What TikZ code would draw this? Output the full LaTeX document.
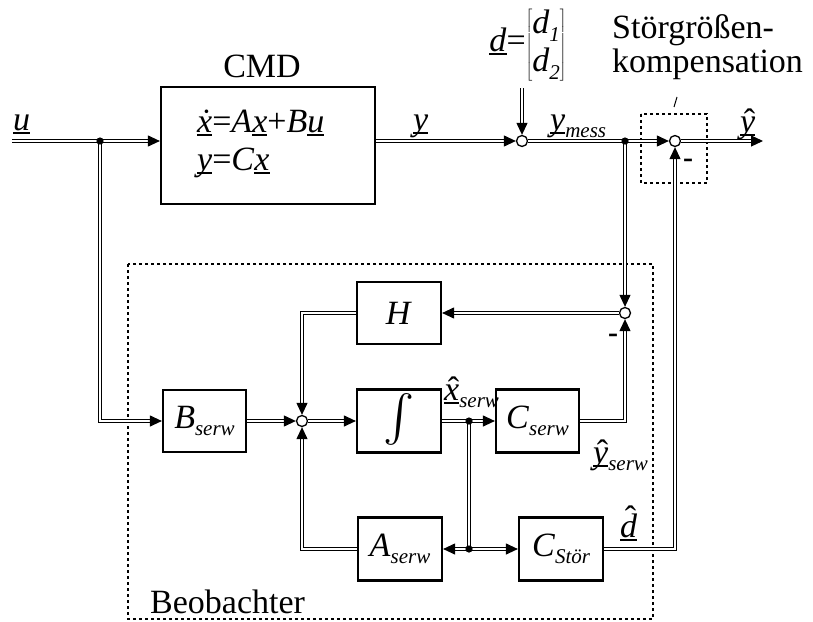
\documentclass[tikz,border=0pt]{standalone}
\usepackage{fontspec}
\setmainfont{Liberation Serif}
\usepackage{graphicx}
\usetikzlibrary{arrows.meta}
\newcommand{\ul}[1]{\setbox0\hbox{#1}\rlap{\rule[-0.11em]{\wd0}{0.05em}}\box0}
\newcommand{\sbs}[1]{\raisebox{-0.22em}{\fontsize{21}{21}\selectfont\itshape #1}}
% accent (#2) raised by #3 over an underlined italic letter #1
\newcommand{\accul}[3]{\setbox2\hbox{\ul{\textit{#1}}}\makebox[\wd2]{\hspace{0.1em}\raisebox{#3}[0pt][0pt]{#2}}\llap{\box2}}
\newcommand{\hatul}[2][0em]{\accul{#2}{\char"02C6}{#1}}
\newcommand{\dotul}[1]{\accul{#1}{\char"02D9}{0em}}
\tikzset{
  blk/.style={draw, line width=2.2pt, minimum width=84pt, minimum height=63pt, inner sep=0pt},
  dl/.style={draw=black, double=white, line width=1.1pt, double distance=1.8pt},
  arr/.style={-{Triangle[length=12pt,width=11pt]}},
  sumc/.style={circle, draw, fill=white, line width=1.3pt, minimum size=11pt, inner sep=0pt},
  grp/.style={draw, line width=1.3pt, dash pattern=on 3pt off 3pt},
  lbl/.style={inner sep=0pt, anchor=base west},
  minus/.style={inner sep=0pt, font=\fontsize{30}{30}\selectfont\bfseries},
}
\begin{document}
\begin{tikzpicture}[x=1pt,y=-1pt,font=\fontsize{34}{40}\selectfont]
\useasboundingbox (0,0) rectangle (813,621);
% group frames
\draw[grp] (128,264) rectangle (653,619);
\draw[grp] (641,114) rectangle (707,183);
% blocks
\node[blk, minimum width=214pt, minimum height=117pt] (cmd) at (268,145.5) {};
\node[lbl] (cmdl1) at (197,132) {\dotul{x}=\textit{A}\ul{\textit{x}}+\textit{B}\ul{\textit{u}}};
\node[lbl] (cmdl2) at (197,170) {\ul{\textit{y}}=\textit{C}\ul{\textit{x}}};
\node[inner sep=0pt, anchor=base] (cmdt) at (262,77) {CMD};
\node[blk, minimum width=83pt, minimum height=62pt] (Bs) at (204.5,421) {\textit{B}\sbs{serw}};
\node[blk, minimum height=62pt] (H) at (399,313) {\textit{H}};
\node[blk] (int) at (399,421) {\resizebox{!}{55pt}{$\int$}};
\node[blk, minimum width=83pt] (Cs) at (537.5,421) {\textit{C}\sbs{serw}};
\node[blk] (As) at (400,549) {\textit{A}\sbs{serw}};
\node[blk] (Cst) at (561,549) {\textit{C}\sbs{Stör}};
% summing points
\node[sumc] (s1) at (522,141) {};
\node[sumc] (s2) at (675,141) {};
\node[sumc] (s3) at (302,421) {};
\node[sumc] (s4) at (625,313) {};
% junctions and free ends
\coordinate (in) at (12,141);
\coordinate (out) at (763,141);
\coordinate (din) at (522,88);
\coordinate (j1) at (100,141);
\coordinate (j2) at (625,141);
\coordinate (j3) at (469,421);
\coordinate (j4) at (469,549);
\coordinate (lead1) at (677,97);
\coordinate (lead2) at (674,107);
% connectors
\draw[dl] (in) -- (j1);
\draw[dl,arr] (j1) -- (j1 -| cmd.west);
\draw[dl,arr] (cmd.east |- s1) -- (s1);
\draw[dl,arr] (din) -- (s1);
\draw[dl] (s1) -- (j2);
\draw[dl,arr] (j2) -- (s2);
\draw[dl,arr] (s2) -- (out);
\draw[dl,arr] (j2) -- (s4);
\draw[dl,arr] (s4) -- (H);
\draw[dl,arr] (H.west) -| (s3);
\draw[dl,arr] (j1) |- (Bs.west);
\draw[dl,arr] (Bs) -- (s3);
\draw[dl,arr] (s3) -- (int);
\draw[dl] (int) -- (j3);
\draw[dl,arr] (j3) -- (Cs);
\draw[dl,arr] (Cs.east) -| (s4);
\draw[dl] (j3) -- (j4);
\draw[dl,arr] (j4) -- (As);
\draw[dl,arr] (j4) -- (Cst);
\draw[dl,arr] (As.west) -| (s3);
\draw[dl,arr] (Cst.east) -| (s2);
\draw[line width=1pt] (lead1) -- (lead2);
% dots
\foreach \j in {j1,j2,j3,j4} \fill (\j) circle (3.6pt);
% labels
\node[lbl] (lu) at (13,130) {\ul{\textit{u}}};
\node[lbl] (ly) at (413,130) {\ul{\textit{y}}};
\node[lbl] (lym) at (550,130) {\ul{\textit{y}}\sbs{mess}};
\node[lbl] (lyh) at (740,132) {\hatul{y}};
\node[inner sep=0pt] (ld) at (528,45) {\ul{\textit{d}}=$\left[\renewcommand{\arraystretch}{0.95}\begin{tabular}{@{}l@{}}\textit{d}\sbs{1}\\\textit{d}\sbs{2}\end{tabular}\right]$};
\node[lbl] (lsg1) at (612,38) {Störgrößen-};
\node[lbl] (lsg2) at (612,72) {kompensation};
\node[lbl] (lxs) at (444,400) {\hatul{x}\sbs{serw}};
\node[lbl] (lys) at (593,463) {\hatul{y}\sbs{serw}};
\node[lbl] (ldh) at (620,537) {\hatul[0.22em]{d}};
\node[lbl] (lbeo) at (150,613) {Beobachter};
\node[minus] (m1) at (688,163) {-};
\node[minus] (m2) at (613,338) {-};
\end{tikzpicture}
\end{document}
